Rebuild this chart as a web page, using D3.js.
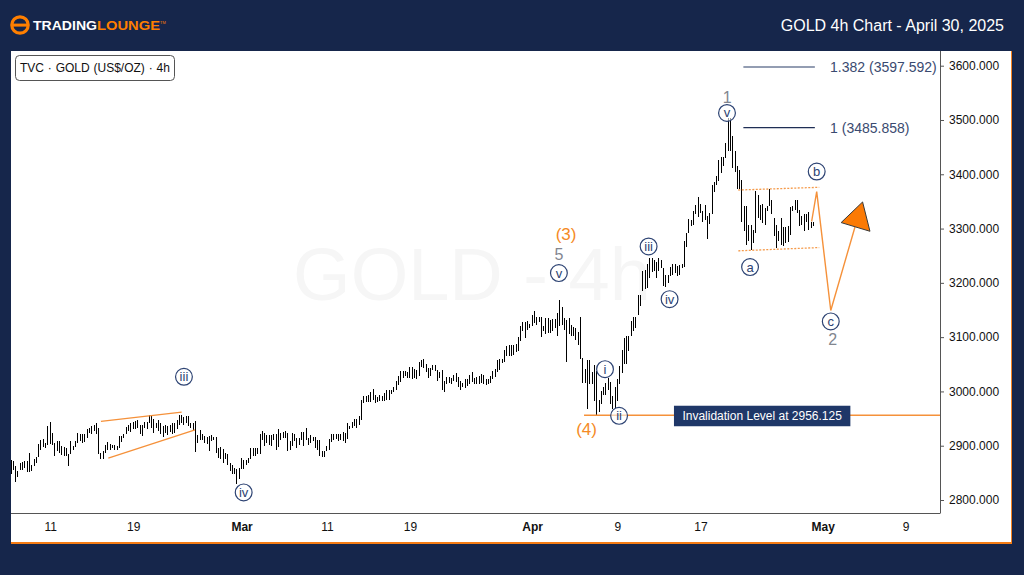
<!DOCTYPE html>
<html>
<head>
    <title>GOLD 4h Chart</title>
    <meta charset="utf-8">
    <script src="https://d3js.org/d3.v7.min.js"></script>
    <style>
        html, body { margin: 0; padding: 0; background: #16264b; }
        svg { display: block; }
        text { font-family: "Liberation Sans", Arial, sans-serif; }
        .axis path, .axis line { stroke: #555; }
        .axis text { font-size: 12px; fill: #111; }
    </style>
</head>
<body>
<script>
//DATA: 4h bars, high and low in US$/oz
var barHigh = [
    2873,2871,2862,2853,2868,2870,2871,2871,2887,2865,
    2876,2879,2904,2911,2913,2905,2937,2943,2924,2905,
    2909,2908,2900,2898,2896,2884,2909,2899,2908,2924,
    2922,2921,2921,2930,2933,2936,2939,2941,2933,2887,
    2890,2902,2907,2903,2902,2901,2900,2917,2917,2922,
    2935,2939,2941,2943,2946,2948,2939,2939,2943,2944,
    2957,2954,2949,2942,2948,2942,2937,2939,2936,2939,
    2942,2942,2947,2957,2957,2953,2954,2954,2942,2942,
    2946,2919,2929,2921,2917,2916,2917,2919,2916,2916,
    2896,2898,2894,2887,2885,2868,2865,2859,2857,2859,
    2878,2873,2873,2878,2896,2896,2895,2895,2922,2928,
    2924,2919,2919,2919,2922,2921,2930,2924,2925,2928,
    2924,2908,2924,2921,2914,2914,2925,2925,2932,2914,
    2919,2916,2916,2911,2911,2891,2891,2900,2913,2922,
    2921,2922,2921,2921,2925,2924,2942,2937,2943,2949,
    2950,2954,2985,2991,2991,2994,2999,3005,2994,2990,
    2994,2991,2997,3002,3002,3003,3008,3019,3029,3038,
    3038,3038,3036,3045,3045,3041,3039,3054,3057,3059,
    3051,3043,3043,3048,3048,3039,3035,3039,3019,3026,
    3027,3025,3031,3034,3026,3019,3016,3022,3023,3030,
    3036,3025,3026,3028,3032,3031,3022,3022,3028,3038,
    3042,3057,3060,3060,3076,3083,3086,3086,
    3086,3087,3100,3120,3128,3127,3129,3124,3140,3149,3138,3138,
    3137,3121,3135,3135,3132,3133,3134,3145,3169,3155,
    3135,3132,3135,3122,3119,3117,3110,3137,3062,3041,
    3057,3057,3036,3048,3038,2985,3000,3009,3016,3024,3017,2991,3009,3022,
    3046,3077,3099,3102,3103,3129,3138,3138,3177,3177,
    3221,3223,3234,3246,3246,3243,3238,3246,3243,3227,
    3215,3215,3229,3234,3234,3231,3232,3234,3277,3292,
    3318,3316,3333,3344,3359,3345,3332,3343,3324,3329,
    3380,3386,3397,3427,3431,3431,3458,3503,3503,
    3470,3442,3415,3407,3389,3341,3341,3307,3307,3298,
    3369,3362,3344,3345,3338,3341,3372,3353,3319,3307,
    3295,3319,3303,3303,3304,3340,3341,3353,3353,3335,
    3324,3326,3326,3331,3313,3313
];
var barLow = [
    2847,2855,2833,2843,2855,2856,2859,2851,2852,2853,
    2862,2868,2880,2893,2898,2896,2902,2904,2902,2881,
    2890,2887,2882,2881,2881,2862,2884,2893,2898,2905,
    2908,2905,2906,2914,2924,2922,2927,2921,2884,2876,
    2876,2887,2893,2892,2896,2893,2892,2896,2906,2914,
    2921,2927,2925,2930,2931,2933,2921,2917,2933,2930,
    2942,2933,2924,2933,2927,2922,2916,2924,2919,2925,
    2922,2924,2931,2939,2942,2939,2942,2936,2933,2927,
    2889,2905,2911,2911,2905,2903,2890,2908,2911,2887,
    2878,2876,2868,2875,2865,2853,2848,2848,2830,2838,
    2857,2857,2865,2868,2876,2881,2881,2884,2884,2911,
    2899,2905,2902,2900,2911,2893,2897,2910,2914,2914,
    2890,2893,2899,2908,2895,2901,2910,2899,2910,2901,
    2905,2908,2895,2893,2881,2879,2879,2890,2893,2907,
    2911,2913,2909,2911,2908,2905,2913,2930,2933,2936,
    2932,2939,2948,2978,2980,2980,2980,2984,2978,2980,
    2982,2982,2982,2984,2985,2996,2999,3002,3011,3017,
    3024,3028,3025,3024,3022,3024,3023,3028,3045,3043,
    3035,3024,3029,3039,3037,3020,3025,3003,2999,3013,
    3016,3013,3019,3017,3008,3002,3008,3007,3010,3014,
    3017,3014,3014,3014,3016,3014,3011,3013,3016,3022,
    3026,3035,3039,3053,3054,3065,3065,3066,
    3068,3073,3075,3092,3111,3099,3114,3117,3120,3126,3123,3128,
    3100,3112,3106,3108,3108,3111,3117,3102,3120,3122,
    3114,3054,3105,3103,3102,3095,3086,3060,3016,3016,
    2968,3014,3014,2982,2956,2963,2977,2993,2994,3003,2976,2967,2970,2982,
    3013,3034,3050,3050,3074,3103,3111,3117,3140,3157,
    3185,3188,3191,3209,3220,3221,3209,3221,3227,3194,
    3192,3200,3213,3215,3218,3212,3215,3227,3229,3266,
    3292,3304,3306,3326,3321,3329,3312,3315,3281,3308,
    3327,3367,3381,3387,3402,3415,3430,3442,3442,
    3412,3405,3372,3372,3313,3295,3270,3277,3260,3273,
    3292,3320,3316,3310,3307,3332,3341,3326,3286,3264,
    3277,3270,3267,3273,3275,3289,3332,3335,3329,3304,
    3307,3295,3313,3298,3301,3304
];

//AXIS LABELS
var priceTicks = [2800,2900,3000,3100,3200,3300,3400,3500,3600];
var dateBars = [17,53,100,137,173,226,263,299,352,388];
var dateLabels = ['11','19','Mar','11','19','Apr','9','17','May','9'];
var monthLabels = ['Mar','Apr','May'];

//WAVE COUNT (bar position, price)
var circleLabels = ['iii','iv','v','iii','iv','i','ii','v','a','b','c'];
var circleBars =   [75,100.9,237.6,276.5,285.6,257.6,263.7,310.5,320.5,349.4,355.5];
var circlePrices = [3027,2814,3218,3267,3170,3041,2955,3513,3229,3405,3129];

var degreeLabels = ['5','(3)','(4)','1','2'];
var degreeBars =   [237.6,240.7,249.6,310.6,356.3];
var degreePrices = [3253,3290,2931,3542,3097];
var degreeColors = ['#82868f','#f58a25','#f58a25','#82868f','#82868f'];

//PROJECTION
var wedgeUpper = [[39,2945],[74,2962]];
var wedgeLower = [[42.2,2877],[79.8,2929]];
var channelUpper = [[315.4,3371],[350.5,3376]];
var channelLower = [[315.4,3259],[350.5,3265]];
var pathBars =   [347.2,349.4,355.5,366];
var pathPrices = [3313,3368,3149,3303];
var arrowBars =   [369.3,372.5,360];
var arrowPrices = [3349,3295,3311];

//LEVELS
var fibLabels = ['1.382 (3597.592)','1 (3485.858)'];
var fibPrices = [3597.592,3485.858];
var fibColors = ['#6f7c99','#1f2e55'];
var fibStart = 317.6, fibEnd = 348.6, fibText = 355.2;
var invalidLevel = 2956.125;
var invalidStart = 248.5, invalidLabelStart = 287.5, invalidLabelEnd = 364;
var invalidText = 'Invalidation Level at 2956.125';

//WINDOW
var width = 1024, height = 575;
var plot = {left: 11, right: 940, top: 51, bottom: 513, edge: 1012, foot: 544};

var x = d3.scaleLinear().domain([0,403]).range([plot.left, 940.3]);
var y = d3.scaleLinear().domain([2800,3600]).range([500,65.7]);

var svg = d3.select('body').append('svg')
    .attr('width', width)
    .attr('height', height);

svg.append('rect').attr('width', width).attr('height', height).attr('fill', '#16264b');

svg.append('rect')
    .attr('x', plot.left).attr('y', plot.top)
    .attr('width', plot.edge - plot.left).attr('height', plot.foot - plot.top)
    .attr('fill', '#fff');

svg.append('line')
    .attr('x1', 1011.5).attr('x2', 1011.5).attr('y1', plot.top).attr('y2', plot.foot)
    .attr('stroke', '#f58220').attr('stroke-width', 1);
svg.append('line')
    .attr('x1', plot.left).attr('x2', plot.edge).attr('y1', 543).attr('y2', 543)
    .attr('stroke', '#f57c14').attr('stroke-width', 2);

//HEADER
var logo = svg.append('g');
logo.append('circle').attr('cx', 20).attr('cy', 25).attr('r', 8.2)
    .attr('fill', 'none').attr('stroke', '#ff7f00').attr('stroke-width', 3.2);
logo.append('rect').attr('x', 11).attr('y', 23.6).attr('width', 18).attr('height', 3).attr('fill', '#ff7f00');
logo.append('text').attr('x', 33).attr('y', 30)
    .attr('textLength', 64).attr('lengthAdjust', 'spacingAndGlyphs')
    .attr('font-size', 13).attr('font-weight', 'bold').attr('fill', '#fff')
    .text('TRADING');
logo.append('text').attr('x', 97).attr('y', 30)
    .attr('textLength', 63).attr('lengthAdjust', 'spacingAndGlyphs')
    .attr('font-size', 13).attr('font-weight', 'bold').attr('fill', '#ff7f00')
    .text('LOUNGE');
logo.append('text').attr('x', 160).attr('y', 24)
    .attr('font-size', 4).attr('fill', '#ff7f00')
    .text('TM');

svg.append('text')
    .attr('x', 1004).attr('y', 31)
    .attr('text-anchor', 'end')
    .attr('font-size', 16).attr('fill', '#fff')
    .text('GOLD 4h Chart - April 30, 2025');

//WATERMARK
svg.append('text')
    .attr('x', 472).attr('y', 300)
    .attr('text-anchor', 'middle')
    .attr('font-size', 74).attr('fill', '#f6f6f6')
    .text('GOLD - 4h');

//LEGEND
svg.append('rect')
    .attr('x', 15.5).attr('y', 55.5).attr('width', 159).attr('height', 25).attr('rx', 4)
    .attr('fill', '#fff').attr('stroke', '#555');
svg.append('text')
    .attr('x', 20).attr('y', 72)
    .attr('font-size', 12).attr('fill', '#111')
    .attr('word-spacing', 0.5)
    .text('TVC \u00b7 GOLD (US$/OZ) \u00b7 4h');

//AXES
var yAxis = d3.axisRight(y).tickValues(priceTicks).tickSize(4).tickPadding(5).tickFormat(d3.format('.3f'));
var xAxis = d3.axisBottom(x).tickValues(dateBars).tickSize(0).tickPadding(9)
    .tickFormat((d,i) => dateLabels[i]);

var yG = svg.append('g').attr('class', 'axis')
    .attr('transform', 'translate(' + plot.right + ',0)')
    .call(yAxis);
yG.select('.domain').attr('d', 'M0.5,' + plot.top + 'V' + plot.bottom);

var xG = svg.append('g').attr('class', 'axis')
    .attr('transform', 'translate(0,' + plot.bottom + ')')
    .call(xAxis);
xG.select('.domain').attr('d', 'M' + plot.left + ',0.5H' + (plot.right + 0.5));
xG.selectAll('text')
    .attr('font-weight', (d,i) => monthLabels.includes(dateLabels[i]) ? 'bold' : 'normal');

//BARS
svg.append('g').selectAll('line')
    .data(barHigh)
    .enter().append('line')
    .attr('x1', (d,i) => x(i))
    .attr('x2', (d,i) => x(i))
    .attr('y1', d => y(d))
    .attr('y2', (d,i) => y(barLow[i]))
    .attr('stroke', '#000')
    .attr('stroke-width', 1)
    .attr('shape-rendering', 'crispEdges');

//TREND LINES
var line = d3.line().x(d => x(d[0])).y(d => y(d[1]));

[wedgeUpper, wedgeLower].forEach(d => {
    svg.append('path').attr('d', line(d))
        .attr('fill', 'none').attr('stroke', '#f5913a').attr('stroke-width', 1.3);
});
[channelUpper, channelLower].forEach(d => {
    svg.append('path').attr('d', line(d))
        .attr('fill', 'none').attr('stroke', '#f59a4a').attr('stroke-width', 1.3).attr('stroke-dasharray', '2 1.5');
});

svg.append('path')
    .attr('d', line(pathBars.map((d,i) => [d, pathPrices[i]])))
    .attr('fill', 'none').attr('stroke', '#f5913a').attr('stroke-width', 1.4);

svg.append('path')
    .attr('d', line(arrowBars.map((d,i) => [d, arrowPrices[i]])) + 'Z')
    .attr('fill', '#fb7a05').attr('stroke', '#3a3a3a').attr('stroke-width', 1);

//INVALIDATION
svg.append('line')
    .attr('x1', x(invalidStart)).attr('x2', plot.right)
    .attr('y1', y(invalidLevel)).attr('y2', y(invalidLevel))
    .attr('stroke', '#f5913a').attr('stroke-width', 1.5);
svg.append('rect')
    .attr('x', x(invalidLabelStart)).attr('y', y(invalidLevel) - 9.5)
    .attr('width', x(invalidLabelEnd) - x(invalidLabelStart)).attr('height', 20.5)
    .attr('fill', '#1f3768');
svg.append('text')
    .attr('x', (x(invalidLabelStart) + x(invalidLabelEnd)) / 2).attr('y', y(invalidLevel) + 4.5)
    .attr('text-anchor', 'middle')
    .attr('font-size', 12).attr('fill', '#fff')
    .text(invalidText);

//FIB LEVELS
fibPrices.forEach((d,i) => {
    svg.append('line')
        .attr('x1', x(fibStart)).attr('x2', x(fibEnd))
        .attr('y1', y(d)).attr('y2', y(d))
        .attr('stroke', fibColors[i]).attr('stroke-width', 1.3);
    svg.append('text')
        .attr('x', x(fibText)).attr('y', y(d) + 5)
        .attr('font-size', 14).attr('fill', '#3a4a70')
        .text(fibLabels[i]);
});

//WAVE LABELS
var circles = svg.append('g').selectAll('g')
    .data(circleLabels)
    .enter().append('g')
    .attr('transform', (d,i) => 'translate(' + x(circleBars[i]) + ',' + y(circlePrices[i]) + ')');
circles.append('circle')
    .attr('r', 8.4)
    .attr('fill', '#fff').attr('fill-opacity', 0.6)
    .attr('stroke', '#2d4373').attr('stroke-width', 1.2);
circles.append('text')
    .attr('y', 4.5)
    .attr('text-anchor', 'middle')
    .attr('font-size', 13).attr('fill', '#2d4373')
    .text(d => d);

svg.append('g').selectAll('text')
    .data(degreeLabels)
    .enter().append('text')
    .attr('x', (d,i) => x(degreeBars[i]))
    .attr('y', (d,i) => y(degreePrices[i]) + 6)
    .attr('text-anchor', 'middle')
    .attr('font-size', (d,i) => degreeColors[i] == '#f58a25' ? 17 : 16)
    .attr('fill', (d,i) => degreeColors[i])
    .text(d => d);
</script>
</body>
</html>
